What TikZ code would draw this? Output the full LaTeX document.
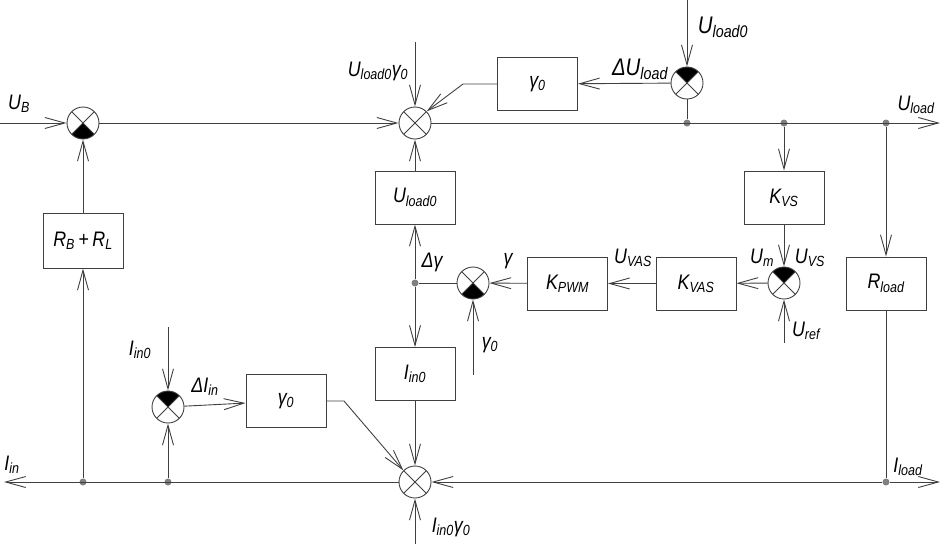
\documentclass[tikz,border=0pt]{standalone}
\usepackage{fontspec}
\setmainfont{Liberation Sans}[FakeStretch=0.85]
\usetikzlibrary{arrows.meta}
\newcommand{\sjcross}{\draw[black!75,line width=0.9pt] (path picture bounding box.south west) -- (path picture bounding box.north east) (path picture bounding box.north west) -- (path picture bounding box.south east);}
\newcommand{\sjfilltop}{\fill[black] (path picture bounding box.center) -- (path picture bounding box.north west) -- (path picture bounding box.north east) -- cycle;}
\newcommand{\sjfillbot}{\fill[black] (path picture bounding box.center) -- (path picture bounding box.south west) -- (path picture bounding box.south east) -- cycle;}
\begin{document}
\begin{tikzpicture}[x=1pt,y=-1pt,
  lc/.style={draw=black!75, line width=0.9pt},
  ar/.style={lc, -{Straight Barb[length=20pt,width=11pt]}},
  blk/.style={lc, rectangle, minimum width=80pt, minimum height=53pt, inner sep=0pt, font=\fontsize{21}{24}\selectfont\itshape},
  sumj/.style={circle, lc, minimum size=32pt, inner sep=0pt, path picture={\sjcross}},
  sumtop/.style={circle, lc, minimum size=32pt, inner sep=0pt, path picture={\sjfilltop\sjcross}},
  sumbot/.style={circle, lc, minimum size=32pt, inner sep=0pt, path picture={\sjfillbot\sjcross}},
  dotn/.style={circle, fill=black!50, minimum size=7pt, inner sep=0pt},
  lbl/.style={font=\fontsize{21}{24}\selectfont\itshape, inner sep=0pt},
  lblb/.style={font=\fontsize{24}{26}\selectfont\itshape, inner sep=0pt}]
\useasboundingbox (0,0) rectangle (945,544);
% summing junctions
\node[sumbot] (SB) at (83,123) {};
\node[sumj] (S1) at (415,123) {};
\node[sumtop] (S2) at (687,83) {};
\node[sumtop] (S3) at (784,283) {};
\node[sumbot] (S4) at (473,283) {};
\node[sumj] (S5) at (415,482) {};
\node[sumtop] (S6) at (168,407) {};
% blocks
\node[blk] (G1) at (537.5,84) {γ\textsubscript{0}};
\node[blk] (UL0) at (415,197.5) {U\textsubscript{load0}};
\node[blk] (KVS) at (784,197.5) {K\textsubscript{VS}};
\node[blk] (KVAS) at (696,283.5) {K\textsubscript{VAS}};
\node[blk] (KPWM) at (567.5,283.5) {K\textsubscript{PWM}};
\node[blk] (IIN0) at (415,374) {I\textsubscript{in0}};
\node[blk] (G2) at (286,401) {γ\textsubscript{0}};
\node[blk, minimum height=55pt] (RBL) at (83,240.5) {R\textsubscript{B}\,+\,R\textsubscript{L}};
\node[blk] (RLD) at (886,283.5) {R\textsubscript{load}};
% branch points
\node[dotn] (D1) at (687,123) {};
\node[dotn] (D2) at (784,123) {};
\node[dotn] (D3) at (886,123) {};
\node[dotn] (D4) at (415,283) {};
\node[dotn] (D5) at (83,482) {};
\node[dotn] (D6) at (168,482) {};
\node[dotn] (D7) at (886,482) {};
% free ends
\coordinate (UBin) at (0,123);
\coordinate (ULout) at (940,123);
\coordinate (ULGin) at (415,42);
\coordinate (UL0in) at (687,0);
\coordinate (Bend1) at (463,84);
\coordinate (Bend2) at (344,401);
\coordinate (Urefin) at (784,343);
\coordinate (G0in) at (473,375);
\coordinate (IGin) at (415,544);
\coordinate (Iinout) at (4,482);
\coordinate (Iloadout) at (940,482);
\coordinate (Iin0in) at (168,327);
% connectors: top bus
\draw[ar] (UBin) -- (SB);
\draw[ar] (SB) -- (S1);
\draw[ar] (S1) -- (ULout);
\draw[ar] (ULGin) -- (S1);
\draw[ar] (UL0in) -- (S2);
\draw[lc] (S2) -- (D1);
\draw[ar] (S2) -- (G1);
\draw[ar] (G1.west) -- (Bend1) -- (S1.north east);
\draw[ar] (UL0) -- (S1);
% middle loop
\draw[ar] (D2) -- (KVS);
\draw[ar] (KVS) -- (S3);
\draw[ar] (Urefin) -- (S3);
\draw[ar] (S3) -- (KVAS);
\draw[ar] (KVAS) -- (KPWM);
\draw[ar] (KPWM) -- (S4);
\draw[ar] (G0in) -- (S4);
\draw[lc] (S4) -- (D4);
\draw[ar] (D4) -- (UL0);
\draw[ar] (D4) -- (IIN0);
\draw[ar] (IIN0) -- (S5);
\draw[ar] (IGin) -- (S5);
% load branch
\draw[ar] (D3) -- (RLD);
\draw[lc] (RLD) -- (D7);
\draw[ar] (D7) -- (S5);
\draw[ar] (D7) -- (Iloadout);
% bottom bus
\draw[ar] (S5) -- (Iinout);
\draw[ar] (D5) -- (RBL);
\draw[ar] (RBL) -- (SB);
\draw[ar] (D6) -- (S6);
\draw[ar] (Iin0in) -- (S6);
\draw[ar] (S6) -- (G2);
\draw[ar] (G2.east) -- (Bend2) -- (S5.north west);
% labels
\node[lbl] (tUB) at (19,104) {U\textsubscript{B}};
\node[lbl] (tULG) at (378,71) {U\textsubscript{load0}γ\textsubscript{0}};
\node[lblb] (tUL0) at (723,27) {U\textsubscript{load0}};
\node[lblb] (tdUL) at (640,69) {ΔU\textsubscript{load}};
\node[lbl] (tUL) at (916,105) {U\textsubscript{load}};
\node[lbl] (tUm) at (762,258) {U\textsubscript{m}};
\node[lbl] (tUVS) at (810,258) {U\textsubscript{VS}};
\node[lbl] (tUref) at (806,331) {U\textsubscript{ref}};
\node[lbl] (tUVAS) at (633,258) {U\textsubscript{VAS}};
\node[lbl] (tg) at (508,261) {γ};
\node[lbl] (tg0) at (490,345) {γ\textsubscript{0}};
\node[lbl] (tdg) at (432,262) {Δγ};
\node[lbl] (tIin0) at (140,350) {I\textsubscript{in0}};
\node[lbl] (tdIin) at (205,387) {ΔI\textsubscript{in}};
\node[lbl] (tIin) at (12,465) {I\textsubscript{in}};
\node[lbl] (tIG) at (451,527) {I\textsubscript{in0}γ\textsubscript{0}};
\node[lbl] (tIL) at (908,467) {I\textsubscript{load}};
\end{tikzpicture}
\end{document}
